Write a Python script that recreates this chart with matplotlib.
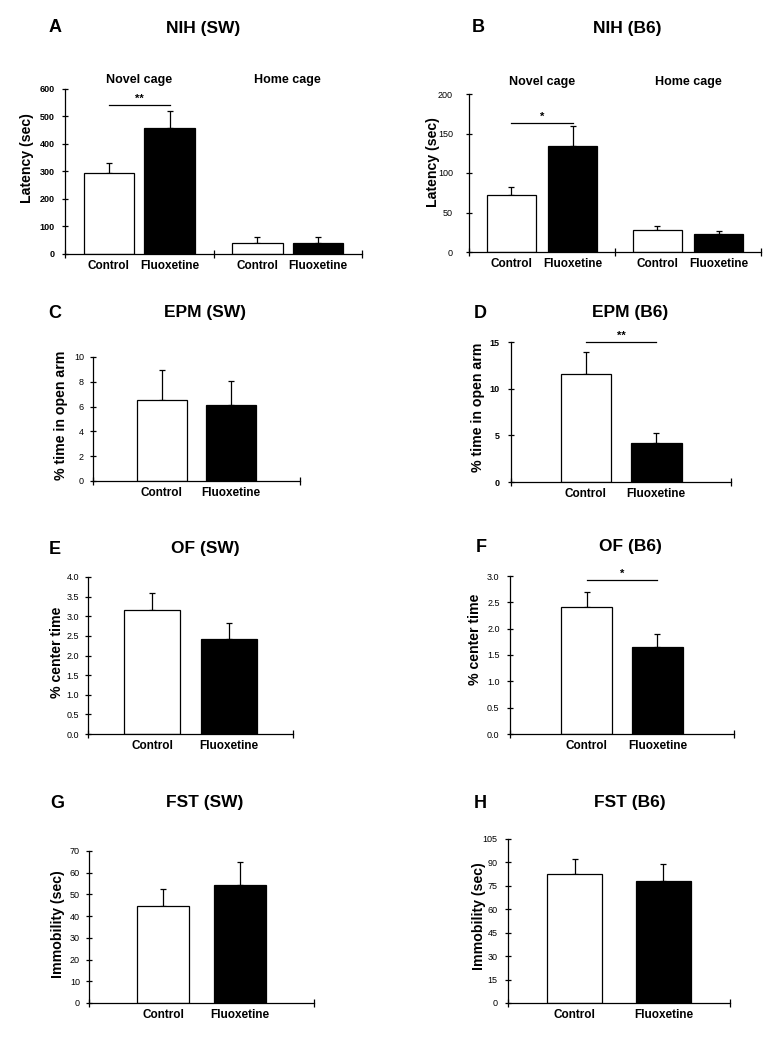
import matplotlib
matplotlib.use("Agg")
import matplotlib.pyplot as plt
import matplotlib.transforms as mtransforms
from matplotlib.ticker import MultipleLocator, FormatStrFormatter, FixedLocator

plt.rcParams["font.family"] = ["Liberation Sans", "DejaVu Sans"]

FIG_W, FIG_H = 783, 1050

# ---- data ----
treatments = ["Control", "Fluoxetine"]

nih_groups = ["Novel cage", "Home cage"]
nih_sw_control = [293, 40]
nih_sw_control_err = [37, 22]
nih_sw_fluox = [458, 40]
nih_sw_fluox_err = [63, 22]

nih_b6_control = [72, 28]
nih_b6_control_err = [10, 4.5]
nih_b6_fluox = [134, 23]
nih_b6_fluox_err = [26, 3.5]

epm_sw_control, epm_sw_control_err = [6.56], [2.42]
epm_sw_fluox, epm_sw_fluox_err = [6.1], [1.93]
epm_b6_control, epm_b6_control_err = [11.54], [2.39]
epm_b6_fluox, epm_b6_fluox_err = [4.18], [1.07]

of_sw_control, of_sw_control_err = [3.15], [0.45]
of_sw_fluox, of_sw_fluox_err = [2.41], [0.42]
of_b6_control, of_b6_control_err = [2.42], [0.28]
of_b6_fluox, of_b6_fluox_err = [1.65], [0.24]

fst_sw_control, fst_sw_control_err = [44.5], [8.2]
fst_sw_fluox, fst_sw_fluox_err = [54.5], [10.4]
fst_b6_control, fst_b6_control_err = [82.3], [9.8]
fst_b6_fluox, fst_b6_fluox_err = [77.8], [11.1]

# ---- panel layout: pixel boxes (left, right, y of zero, y of top) ----
panels = [
    dict(letter="A", title="NIH (SW)", box=(65, 362, 254, 89), ymax=600, step=100, fmt="%d",
         groups=nih_groups, ctrl=nih_sw_control, ctrl_err=nih_sw_control_err,
         flx=nih_sw_fluox, flx_err=nih_sw_fluox_err, off=0.205, width=0.34,
         ylabel="Latency (sec)", ylab_xy=(27, 158), title_xy=((55, 28), (203, 28)),
         sig=(0, "**", 542), bold_ticks=True, group_dy=9, pad=5),
    dict(letter="B", title="NIH (B6)", box=(469, 761, 252, 94), ymax=200, step=50, fmt="%d",
         groups=nih_groups, ctrl=nih_b6_control, ctrl_err=nih_b6_control_err,
         flx=nih_b6_fluox, flx_err=nih_b6_fluox_err, off=0.21, width=0.34,
         ylabel="Latency (sec)", ylab_xy=(433, 162), title_xy=((478, 28), (627, 28)),
         sig=(0, "*", 163), bold_ticks=False, group_dy=12, pad=9),
    dict(letter="C", title="EPM (SW)", box=(93, 300, 481, 357), ymax=10, step=2, fmt="%d",
         groups=None, ctrl=epm_sw_control, ctrl_err=epm_sw_control_err,
         flx=epm_sw_fluox, flx_err=epm_sw_fluox_err, off=0.167, width=0.24,
         ylabel="% time in open arm", ylab_xy=(61, 415), title_xy=((55, 313), (205, 313)),
         sig=None, bold_ticks=False, pad=4),
    dict(letter="D", title="EPM (B6)", box=(511, 731, 482, 342), ymax=15, step=5, fmt="%d",
         groups=None, ctrl=epm_b6_control, ctrl_err=epm_b6_control_err,
         flx=epm_b6_fluox, flx_err=epm_b6_fluox_err, off=0.16, width=0.23,
         ylabel="% time in open arm", ylab_xy=(478, 407), title_xy=((480, 313), (630, 313)),
         sig=(0, "**", 15), bold_ticks=True, pad=6),
    dict(letter="E", title="OF (SW)", box=(88, 293, 734, 577), ymax=4, step=0.5, fmt="%.1f",
         groups=None, ctrl=of_sw_control, ctrl_err=of_sw_control_err,
         flx=of_sw_fluox, flx_err=of_sw_fluox_err, off=0.188, width=0.27,
         ylabel="% center time", ylab_xy=(57, 652), title_xy=((55, 549), (205, 549)),
         sig=None, bold_ticks=False, pad=4),
    dict(letter="F", title="OF (B6)", box=(510, 734, 734, 576), ymax=3, step=0.5, fmt="%.1f",
         groups=None, ctrl=of_b6_control, ctrl_err=of_b6_control_err,
         flx=of_b6_fluox, flx_err=of_b6_fluox_err, off=0.158, width=0.23,
         ylabel="% center time", ylab_xy=(475, 639), title_xy=((481, 547), (630, 547)),
         sig=(0, "*", 2.92), bold_ticks=False, pad=5),
    dict(letter="G", title="FST (SW)", box=(89, 314, 1003, 851), ymax=70, step=10, fmt="%d",
         groups=None, ctrl=fst_sw_control, ctrl_err=fst_sw_control_err,
         flx=fst_sw_fluox, flx_err=fst_sw_fluox_err, off=0.17, width=0.23,
         ylabel="Immobility (sec)", ylab_xy=(58, 924), title_xy=((57, 803), (205, 803)),
         sig=None, bold_ticks=False, pad=4),
    dict(letter="H", title="FST (B6)", box=(508, 730, 1003, 839), ymax=105, step=15, fmt="%d",
         groups=None, ctrl=fst_b6_control, ctrl_err=fst_b6_control_err,
         flx=fst_b6_fluox, flx_err=fst_b6_fluox_err, off=0.2, width=0.25,
         ylabel="Immobility (sec)", ylab_xy=(479, 916), title_xy=((480, 803), (630, 803)),
         sig=None, bold_ticks=False, pad=5),
]


def draw_panel(fig, p):
    left, right, y0, ytop = p["box"]
    ax = fig.add_axes([left / FIG_W, 1 - y0 / FIG_H,
                       (right - left) / FIG_W, (y0 - ytop) / FIG_H])
    n = len(p["ctrl"])
    cats = list(range(n))
    xc = [c - p["off"] for c in cats]
    xf = [c + p["off"] for c in cats]

    # error bars first, bars drawn on top so only the upper half shows
    ax.errorbar(xc, p["ctrl"], yerr=[[0] * n, p["ctrl_err"]], fmt="none",
                ecolor="black", elinewidth=0.9, capsize=2.5, capthick=0.9, zorder=1)
    ax.errorbar(xf, p["flx"], yerr=[[0] * n, p["flx_err"]], fmt="none",
                ecolor="black", elinewidth=0.9, capsize=2.5, capthick=0.9, zorder=1)
    ax.bar(xc, p["ctrl"], width=p["width"], color="white", edgecolor="black",
           linewidth=0.9, zorder=2)
    ax.bar(xf, p["flx"], width=p["width"], color="black", edgecolor="black",
           linewidth=0.9, zorder=2)

    ax.set_xlim(-0.5, n - 0.5)
    ax.set_ylim(0, p["ymax"])
    ax.spines["top"].set_visible(False)
    ax.spines["right"].set_visible(False)
    for s in ("left", "bottom"):
        ax.spines[s].set_linewidth(0.9)

    # x: labels under each bar, tick marks at the category boundaries
    ax.xaxis.set_major_locator(FixedLocator(xc + xf))
    ax.set_xticklabels([treatments[0]] * n + [treatments[1]] * n,
                       fontsize=8.5, fontweight="bold")
    ax.tick_params(axis="x", which="major", length=0, pad=4)
    ax.xaxis.set_minor_locator(FixedLocator([c + 0.5 for c in range(-1, n)]))
    ax.tick_params(axis="x", which="minor", direction="inout", length=6, width=0.9)

    ax.yaxis.set_major_locator(MultipleLocator(p["step"]))
    ax.yaxis.set_major_formatter(FormatStrFormatter(p["fmt"]))
    ax.tick_params(axis="y", direction="inout", length=5, width=0.9, pad=p["pad"],
                   labelsize=6.5)
    if p["bold_ticks"]:
        for t in ax.get_yticklabels():
            t.set_fontweight("bold")

    ax.set_ylabel(p["ylabel"], fontsize=10.2, fontweight="bold", va="center")
    lx, ly = p["ylab_xy"]
    ax.yaxis.set_label_coords((lx - left) / (right - left), (y0 - ly) / (y0 - ytop))

    if p["groups"]:
        trans = mtransforms.blended_transform_factory(ax.transData, ax.transAxes)
        for c, g in zip(cats, p["groups"]):
            ax.text(c, 1 + p["group_dy"] / (y0 - ytop), g, transform=trans,
                    ha="center", va="center", fontsize=9, fontweight="bold")

    if p["sig"]:
        c, star, ys = p["sig"]
        ax.plot([c - p["off"], c + p["off"]], [ys, ys], color="black",
                linewidth=0.9, clip_on=False)
        ax.annotate(star, xy=(c, ys), xytext=(0, 1), textcoords="offset points",
                    ha="center", va="bottom", fontsize=8, fontweight="bold",
                    annotation_clip=False)

    (lx0, ly0), (tx, ty) = p["title_xy"]
    fig.text(lx0 / FIG_W, 1 - ly0 / FIG_H, p["letter"], ha="center", va="center",
             fontsize=13, fontweight="bold")
    fig.text(tx / FIG_W, 1 - ty / FIG_H, p["title"], ha="center", va="center",
             fontsize=12.5, fontweight="bold")
    return ax


fig = plt.figure(figsize=(FIG_W / 100, FIG_H / 100), dpi=100)
for p in panels:
    draw_panel(fig, p)

fig.savefig("out.png", dpi=100, facecolor="white")
